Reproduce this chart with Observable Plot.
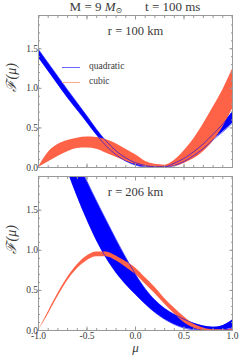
<!DOCTYPE html>
<html><head><meta charset="utf-8">
<script src="https://cdn.jsdelivr.net/npm/d3@7"></script>
<script src="https://cdn.jsdelivr.net/npm/@observablehq/plot@0.6"></script>
<style>
body{margin:0;background:#fff;}
#wrap{position:relative;width:240px;height:359px;overflow:hidden;font-family:"Liberation Serif","DejaVu Serif",serif;color:#333;}
#wrap svg{position:absolute;left:0;}
.abs{position:absolute;white-space:pre;}
</style></head><body><div id="wrap"></div>
<script>
// ---- data ----
const mu = [-1.0,-0.9,-0.8,-0.7,-0.6,-0.5,-0.4,-0.3,-0.2,-0.1,0.0,0.1,0.2,0.3,0.4,0.5,0.6,0.7,0.8,0.9,1.0];

// r = 100 km
const top_quad_lo = [1.39,1.22,1.05,0.88,0.725,0.57,0.41,0.27,0.16,0.08,0.03,0.005,0.0,0.0,0.025,0.075,0.15,0.24,0.35,0.45,0.56];
const top_quad_hi = [1.49,1.32,1.15,0.98,0.815,0.65,0.48,0.33,0.21,0.12,0.06,0.025,0.01,0.01,0.055,0.115,0.20,0.30,0.42,0.55,0.70];
const top_cub_lo  = [0.0,0.07,0.14,0.20,0.24,0.245,0.23,0.18,0.13,0.08,0.04,0.01,0.0,0.0,0.01,0.05,0.11,0.20,0.33,0.51,0.74];
const top_cub_hi  = [0.0,0.19,0.29,0.34,0.37,0.385,0.38,0.35,0.30,0.23,0.16,0.08,0.04,0.03,0.09,0.21,0.36,0.55,0.76,0.98,1.24];

// r = 206 km
const bot_quad_lo = [3.1,2.71,2.34,1.99,1.67,1.38,1.12,0.90,0.72,0.575,0.45,0.33,0.225,0.14,0.075,0.03,0.008,0.0,0.0,0.005,0.03];
const bot_quad_hi = [3.55,3.17,2.8,2.45,2.13,1.86,1.61,1.37,1.135,0.91,0.70,0.52,0.38,0.275,0.20,0.14,0.09,0.055,0.04,0.06,0.13];
const bot_cub_lo  = [0.0,0.20,0.42,0.62,0.77,0.87,0.92,0.92,0.87,0.79,0.70,0.58,0.46,0.33,0.21,0.10,0.03,0.0,0.0,0.0,0.0];
const bot_cub_hi  = [0.0,0.23,0.46,0.66,0.82,0.93,0.98,0.98,0.93,0.86,0.78,0.66,0.54,0.40,0.28,0.17,0.08,0.03,0.01,0.01,0.02];

const xMajor = [-1.0,-0.5,0.0,0.5,1.0];
const yMajor = [0.0,0.5,1.0,1.5];
const titleLeft = "M = 9 ";
const titleRight = "t = 100 ms";
const panelLabels = ["r = 100 km","r = 206 km"];
const legendLabels = ["quadratic","cubic"];
const yLabel = "ℱ(μ)";
const xLabel = "μ";

// ---- drawing ----
const BLUE = "#0000ff", ORANGE = "#ff6347", AX = "#999", TXT = "#3a3a3a";
const xMinor = d3.range(-10, 11).map(i => i / 10);
const yMinor = d3.range(0, 20).map(i => i / 10);
const fmt = d => d.toFixed(1);
const none = () => "";

function panel({qlo, qhi, clo, chi, height, marginTop, marginBottom, xLabels, label, showXLabel}) {
  const rows = mu.map((m, i) => ({mu: m, qlo: qlo[i], qhi: qhi[i], clo: clo[i], chi: chi[i]}));
  const curve = "monotone-x";
  const marks = [
    Plot.areaY(rows, {x: "mu", y1: "qlo", y2: "qhi", fill: BLUE, curve, clip: true}),
    Plot.areaY(rows, {x: "mu", y1: "clo", y2: "chi", fill: ORANGE, curve, clip: true}),
    Plot.lineY(rows, {x: "mu", y: "qlo", stroke: BLUE, strokeWidth: 0.6, curve, clip: true}),
    Plot.lineY(rows, {x: "mu", y: "qhi", stroke: BLUE, strokeWidth: 0.6, curve, clip: true}),
    Plot.frame({stroke: AX}),
    Plot.axisY({anchor: "left", ticks: yMajor, tickSize: -3.5, tickPadding: 4, tickFormat: fmt, stroke: AX, fill: TXT, fontSize: 9.5, label: null}),
    Plot.axisY({anchor: "right", ticks: yMajor, tickSize: -3.5, tickFormat: none, stroke: AX, label: null}),
    Plot.axisX({anchor: "bottom", ticks: xMajor, tickSize: -3.5, tickPadding: 5, tickFormat: xLabels ? fmt : none, stroke: AX, fill: TXT, fontSize: 9.5, label: null}),
    Plot.axisX({anchor: "top", ticks: xMajor, tickSize: -3.5, tickFormat: none, stroke: AX, label: null}),
    Plot.axisY({anchor: "left", ticks: yMinor, tickSize: -2, tickFormat: none, stroke: AX, label: null}),
    Plot.axisY({anchor: "right", ticks: yMinor, tickSize: -2, tickFormat: none, stroke: AX, label: null}),
    Plot.axisX({anchor: "bottom", ticks: xMinor, tickSize: -2, tickFormat: none, stroke: AX, label: null}),
    Plot.axisX({anchor: "top", ticks: xMinor, tickSize: -2, tickFormat: none, stroke: AX, label: null}),
    Plot.text([label], {frameAnchor: "top", dy: 11, text: d => d, fontSize: 12.5, fill: TXT}),
    Plot.text([yLabel], {frameAnchor: "left", dx: -27, rotate: -90, text: d => d, fontSize: 14, fill: TXT, fontStyle: "italic"})
  ];
  if (showXLabel) marks.push(Plot.text([xLabel], {frameAnchor: "bottom", dy: 21, text: d => d, fontSize: 13, fill: TXT, fontStyle: "italic"}));
  return Plot.plot({
    width: 240, height, marginTop, marginBottom, marginLeft: 38, marginRight: 8,
    style: {fontFamily: "'Liberation Serif','DejaVu Serif',serif", background: "transparent", overflow: "visible"},
    x: {domain: [-1, 1], label: null},
    y: {domain: [0, 1.92], label: null},
    marks
  });
}

const wrap = document.getElementById("wrap");
const p1 = panel({qlo: top_quad_lo, qhi: top_quad_hi, clo: top_cub_lo, chi: top_cub_hi, height: 170, marginTop: 15, marginBottom: 3, xLabels: false, label: panelLabels[0], showXLabel: false});
p1.style.top = "0px";
const p2 = panel({qlo: bot_quad_lo, qhi: bot_quad_hi, clo: bot_cub_lo, chi: bot_cub_hi, height: 189, marginTop: 6, marginBottom: 29, xLabels: true, label: panelLabels[1], showXLabel: true});
p2.style.top = "170px";
wrap.appendChild(p1);
wrap.appendChild(p2);

// title
const t = document.createElement("div");
t.className = "abs";
t.style.cssText += "left:38px;width:194px;top:0px;text-align:center;font-size:13px;line-height:14px;color:" + TXT;
t.innerHTML = titleLeft + "<i>M</i><span style='font-size:8px;vertical-align:-2px'>⊙</span>" + "       " + titleRight;
wrap.appendChild(t);

// legend
const legColors = ["#6a6aff", "#ffa894"];
legendLabels.forEach((lab, i) => {
  const y = 67 + i * 14.5;
  const ln = document.createElement("div");
  ln.className = "abs";
  ln.style.cssText += `left:62px;top:${y}px;width:18px;height:1px;background:${legColors[i]}`;
  wrap.appendChild(ln);
  const tx = document.createElement("div");
  tx.className = "abs";
  tx.style.cssText += `left:89px;top:${y - 7}px;font-size:9.5px;color:${TXT};line-height:12px`;
  tx.textContent = lab;
  wrap.appendChild(tx);
});
</script>
</body></html>
